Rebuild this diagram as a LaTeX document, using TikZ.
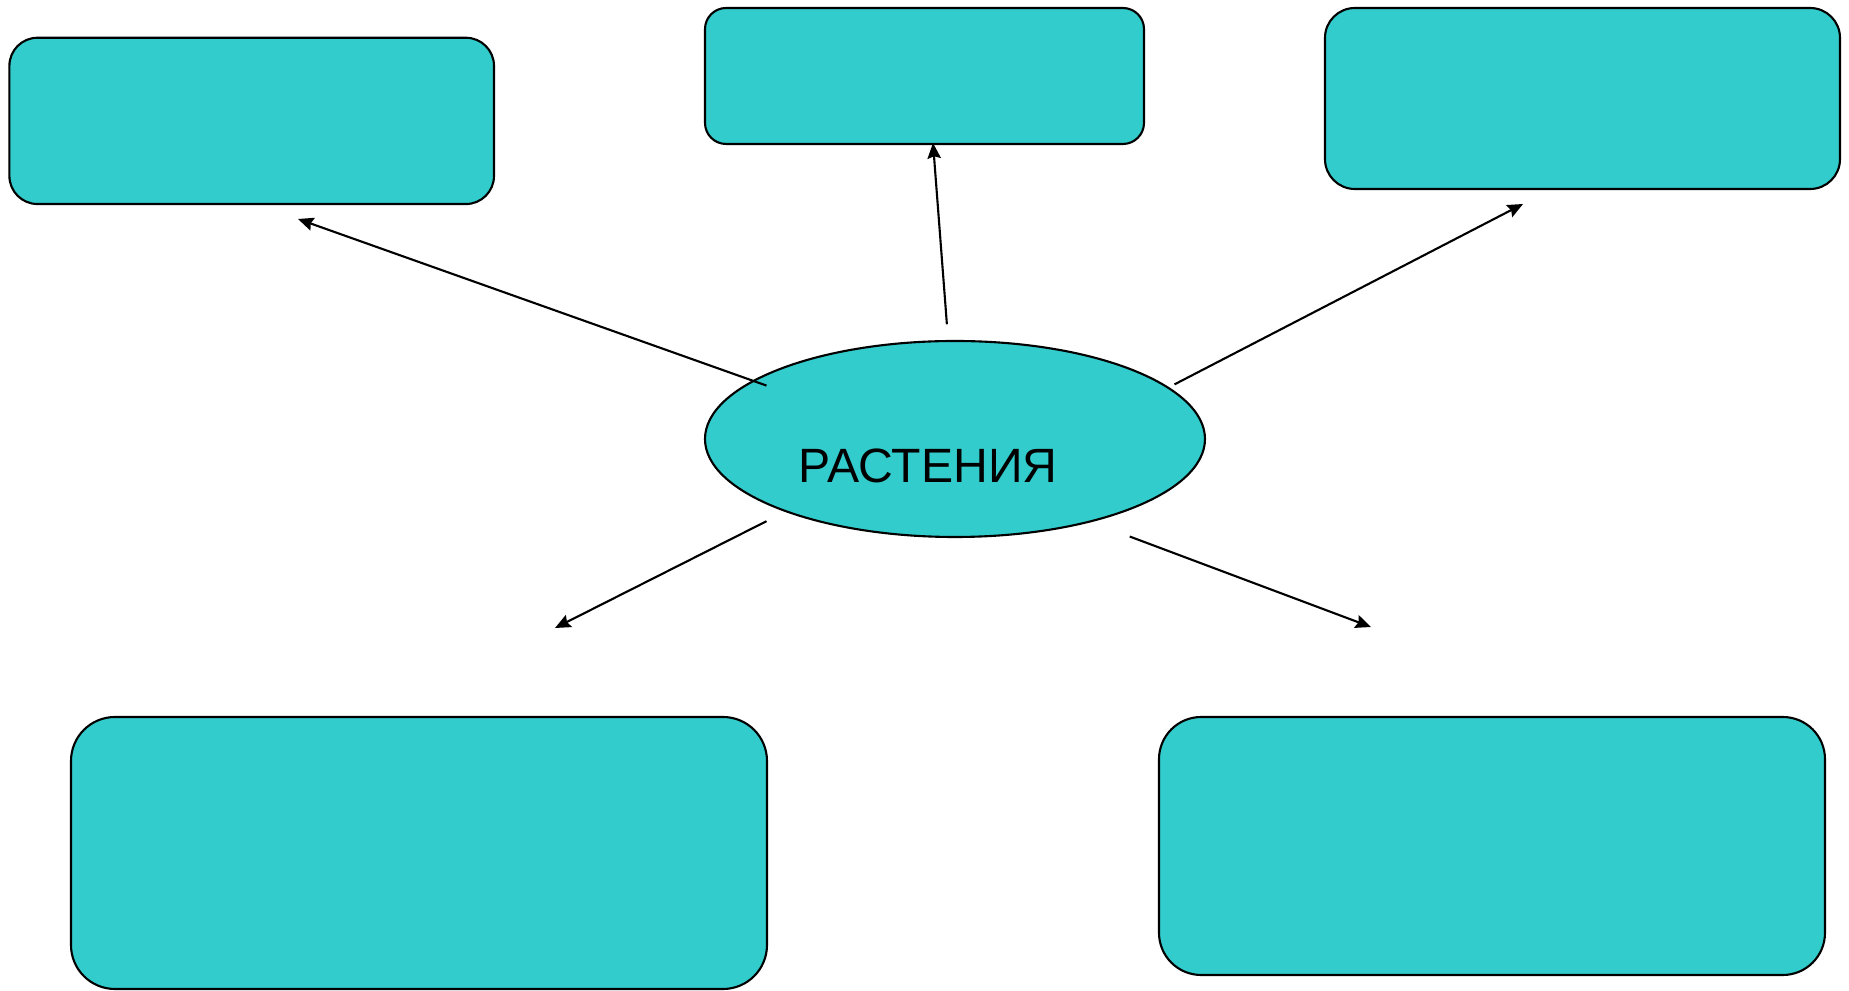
\documentclass[tikz,border=0pt]{standalone}
\usepackage{fontspec}
\setmainfont{Liberation Sans}
\usepackage{tikz}
\usetikzlibrary{arrows.meta, shapes.geometric, positioning}
\definecolor{teal1}{RGB}{51,204,204}
\tikzset{>={Stealth[length=4.4pt,width=3.8pt,inset=0.6pt]}}

\begin{document}
\begin{tikzpicture}[line width=0.6pt,
  box/.style={draw, fill=teal1, rounded corners=#1, inner sep=0pt},
  box/.default=8pt]

\useasboundingbox (0,0) rectangle (18.49,-9.91);

\node[box=8pt, minimum width=4.846cm, minimum height=1.663cm] (T1) at (2.517,-1.209) {};
\node[box=6pt, minimum width=4.39cm, minimum height=1.36cm] (T2) at (9.245,-0.76) {};
\node[box=8.5pt, minimum width=5.15cm, minimum height=1.81cm] (T3) at (15.825,-0.985) {};
\node[box=12.5pt, minimum width=6.96cm, minimum height=2.72cm] (B1) at (4.19,-8.53) {};
\node[box=12pt, minimum width=6.66cm, minimum height=2.58cm] (B2) at (14.92,-8.46) {};

\node[draw, fill=teal1, ellipse, minimum width=5cm, minimum height=1.96cm, inner sep=0pt] (P) at (9.55,-4.39) {};
\node (Pl) at (9.28,-4.655) {\fontsize{13.7pt}{16pt}\selectfont РАСТЕНИЯ};

\coordinate (s1) at (7.665,-3.856);  \coordinate (e1) at (2.98,-2.19);
\coordinate (s2) at (9.469,-3.243);  \coordinate (e2) at (9.33,-1.43);
\coordinate (s3) at (11.745,-3.844); \coordinate (e3) at (15.23,-2.04);
\coordinate (s4) at (7.665,-5.212);  \coordinate (e4) at (5.55,-6.28);
\coordinate (s5) at (11.297,-5.365); \coordinate (e5) at (13.71,-6.27);

\draw [->] (s1)--(e1);
\draw [->] (s2)--(e2);
\draw [->] (s3)--(e3);
\draw [->] (s4)--(e4);
\draw [->] (s5)--(e5);

\end{tikzpicture}
\end{document}
